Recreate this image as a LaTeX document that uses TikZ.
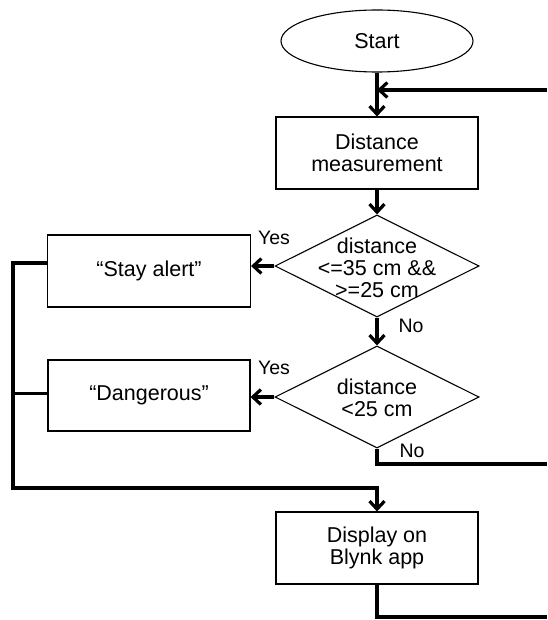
\documentclass[tikz,border=0pt]{standalone}
\usepackage{fontspec}
\setmainfont{Liberation Sans}
\usetikzlibrary{shapes.geometric,arrows.meta}

\begin{document}
\begin{tikzpicture}[x=1pt,y=1pt,
  txt/.style={font=\fontsize{21.5}{22}\selectfont, align=center},
  box/.style={txt, draw, line width=1.1pt, minimum width=202pt, minimum height=72pt},
  decision/.style={draw, diamond, line width=1.1pt, minimum width=204pt, minimum height=102pt, inner sep=0pt},
  flow/.style={line width=3.2pt},
  arr/.style={flow, -{Straight Barb[length=8pt,width=15pt]}},
  lbl/.style={font=\fontsize{19.5}{20}\selectfont, inner sep=0pt}]
  \useasboundingbox (0,0) rectangle (547,-620);

  % main column
  \node[txt, draw, ellipse, line width=1.1pt, minimum width=192pt, minimum height=62pt, inner sep=0pt] (start) at (377,-41) {Start};
  \node[box] (measure) at (377,-153) {Distance\\measurement};
  \node[decision] (check1) at (377,-266) {};
  \node[txt] (check1txt) at (377,-268) {distance\\<=35 cm \&\&\\>=25 cm};
  \node[decision] (check2) at (377,-397) {};
  \node[txt] (check2txt) at (377,-398) {distance\\<25 cm};
  \node[box] (display) at (377,-548) {Display on\\Blynk app};

  % messages
  \node[box, minimum width=203pt] (alert) at (149,-271) {“Stay alert”};
  \node[box, minimum height=71pt] (danger) at (149,-395.5) {“Dangerous”};

  % loose ends on the right, and the bus on the left
  \coordinate (loop1) at (547,-90);
  \coordinate (loop2) at (547,-464);
  \coordinate (loop3) at (547,-617);
  \coordinate (bus) at (13,-488);

  \draw[arr] (start) -- (measure);
  \draw[arr] (loop1) -- (loop1 -| start.south);
  \draw[arr] (measure) -- (check1);
  \draw[arr] (check1) -- (check2);
  \draw[arr] (check1.west) -- (check1.west -| alert.east);
  \draw[arr] (check2.west) -- (check2.west -| danger.east);
  \draw[flow] (check2.south) |- (loop2);
  \draw[flow] (display.south) |- (loop3);
  \draw[arr] ([yshift=8pt]alert.west) -| (bus) -| (display.north);
  \draw[flow] ([yshift=2pt]danger.west) -- ([yshift=2pt]danger.west -| bus);

  \node[lbl] (yes1) at (274,-238) {Yes};
  \node[lbl] (yes2) at (274,-368) {Yes};
  \node[lbl] (no1) at (411,-326) {No};
  \node[lbl] (no2) at (412,-451) {No};
\end{tikzpicture}
\end{document}
